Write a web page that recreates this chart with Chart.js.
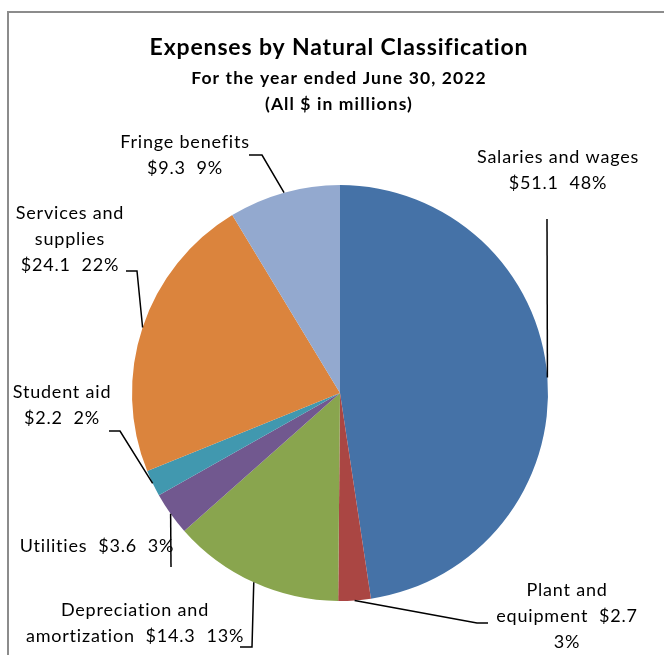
<!DOCTYPE html>
<html>
<head>
<meta charset="utf-8">
<script src="https://cdn.jsdelivr.net/npm/chart.js@4"></script>
<style>
  html, body { margin: 0; padding: 0; background: #fff; }
  #wrap { width: 664px; height: 655px; position: relative; }
</style>
</head>
<body>
<div id="wrap"><canvas id="chart" width="664" height="655"></canvas></div>
<script>
const categories = ['Salaries and wages', 'Plant and equipment', 'Depreciation and amortization',
  'Utilities', 'Student aid', 'Services and supplies', 'Fringe benefits'];
const amounts = [51.1, 2.7, 14.3, 3.6, 2.2, 24.1, 9.3];
const percents = [48, 3, 13, 3, 2, 22, 9];
const colors = ['#4572A7', '#AA4643', '#89A54E', '#71588F', '#4198AF', '#DB843D', '#93A9CF'];

// how each label wraps ({v} = amount, {p} = percent), where it sits,
// and the bends of its leader line
const labelLayout = [
  { text: 'Salaries and wages\n{v}  {p}', x: 558, y: 157, bends: [[547, 219]] },
  { text: 'Plant and\nequipment  {v}\n{p}', x: 567, y: 590, bends: [[477, 623], [488, 623]] },
  { text: 'Depreciation and\namortization  {v}  {p}', x: 135, y: 610, bends: [[252, 647], [240, 647]] },
  { text: 'Utilities  {v}  {p}', x: 97, y: 546, bends: [[171, 567]] },
  { text: 'Student aid\n{v}  {p}', x: 62, y: 392, bends: [[120, 431], [109, 431]] },
  { text: 'Services and\nsupplies\n{v}  {p}', x: 70, y: 213, bends: [[137, 271], [126, 271]] },
  { text: 'Fringe benefits\n{v}  {p}', x: 185, y: 142, bends: [[262, 155], [249, 155]] }
];

const FONT = 'Lato, "Open Sans", sans-serif';

const decor = {
  id: 'decor',
  afterDraw(chart) {
    const c = chart.ctx;
    c.save();
    // frame
    c.strokeStyle = '#8c8c8c';
    c.lineWidth = 2;
    c.beginPath();
    c.moveTo(8, 655);
    c.lineTo(8, 12);
    c.lineTo(664, 12);
    c.stroke();

    // titles
    c.fillStyle = '#000';
    c.textAlign = 'center';
    c.textBaseline = 'middle';
    c.letterSpacing = '0.85px';
    c.font = 'bold 23px ' + FONT;
    c.fillText('Expenses by Natural Classification', 339, 48);
    c.letterSpacing = '1.1px';
    c.font = 'bold 17.5px ' + FONT;
    c.fillText('For the year ended June 30, 2022', 339, 78);
    c.fillText('(All $ in millions)', 339, 104);

    // leader lines from each slice's mid angle
    const meta = chart.getDatasetMeta(0);
    c.strokeStyle = '#000';
    c.lineWidth = 1.5;
    meta.data.forEach((arc, i) => {
      const p = arc.getProps(['x', 'y', 'startAngle', 'endAngle', 'outerRadius'], true);
      const mid = (p.startAngle + p.endAngle) / 2;
      c.beginPath();
      c.moveTo(p.x + Math.cos(mid) * p.outerRadius, p.y + Math.sin(mid) * p.outerRadius);
      labelLayout[i].bends.forEach(b => c.lineTo(b[0], b[1]));
      c.stroke();
    });

    // labels
    c.letterSpacing = '0.8px';
    c.font = '18px ' + FONT;
    c.fillStyle = '#000';
    labelLayout.forEach((l, i) => {
      const txt = l.text.replace('{v}', '$' + amounts[i].toFixed(1)).replace('{p}', percents[i] + '%');
      txt.split('\n').forEach((t, k) => c.fillText(t, l.x, l.y + k * 26));
    });
    c.restore();
  }
};

new Chart(document.getElementById('chart'), {
  type: 'pie',
  data: {
    labels: categories,
    datasets: [{
      data: amounts,
      backgroundColor: colors,
      borderWidth: 0
    }]
  },
  options: {
    responsive: false,
    animation: false,
    layout: { padding: { top: 185, bottom: 54, left: 132, right: 116 } },
    plugins: {
      legend: { display: false },
      title: { display: false },
      tooltip: { enabled: false }
    }
  },
  plugins: [decor]
});
</script>
</body>
</html>
